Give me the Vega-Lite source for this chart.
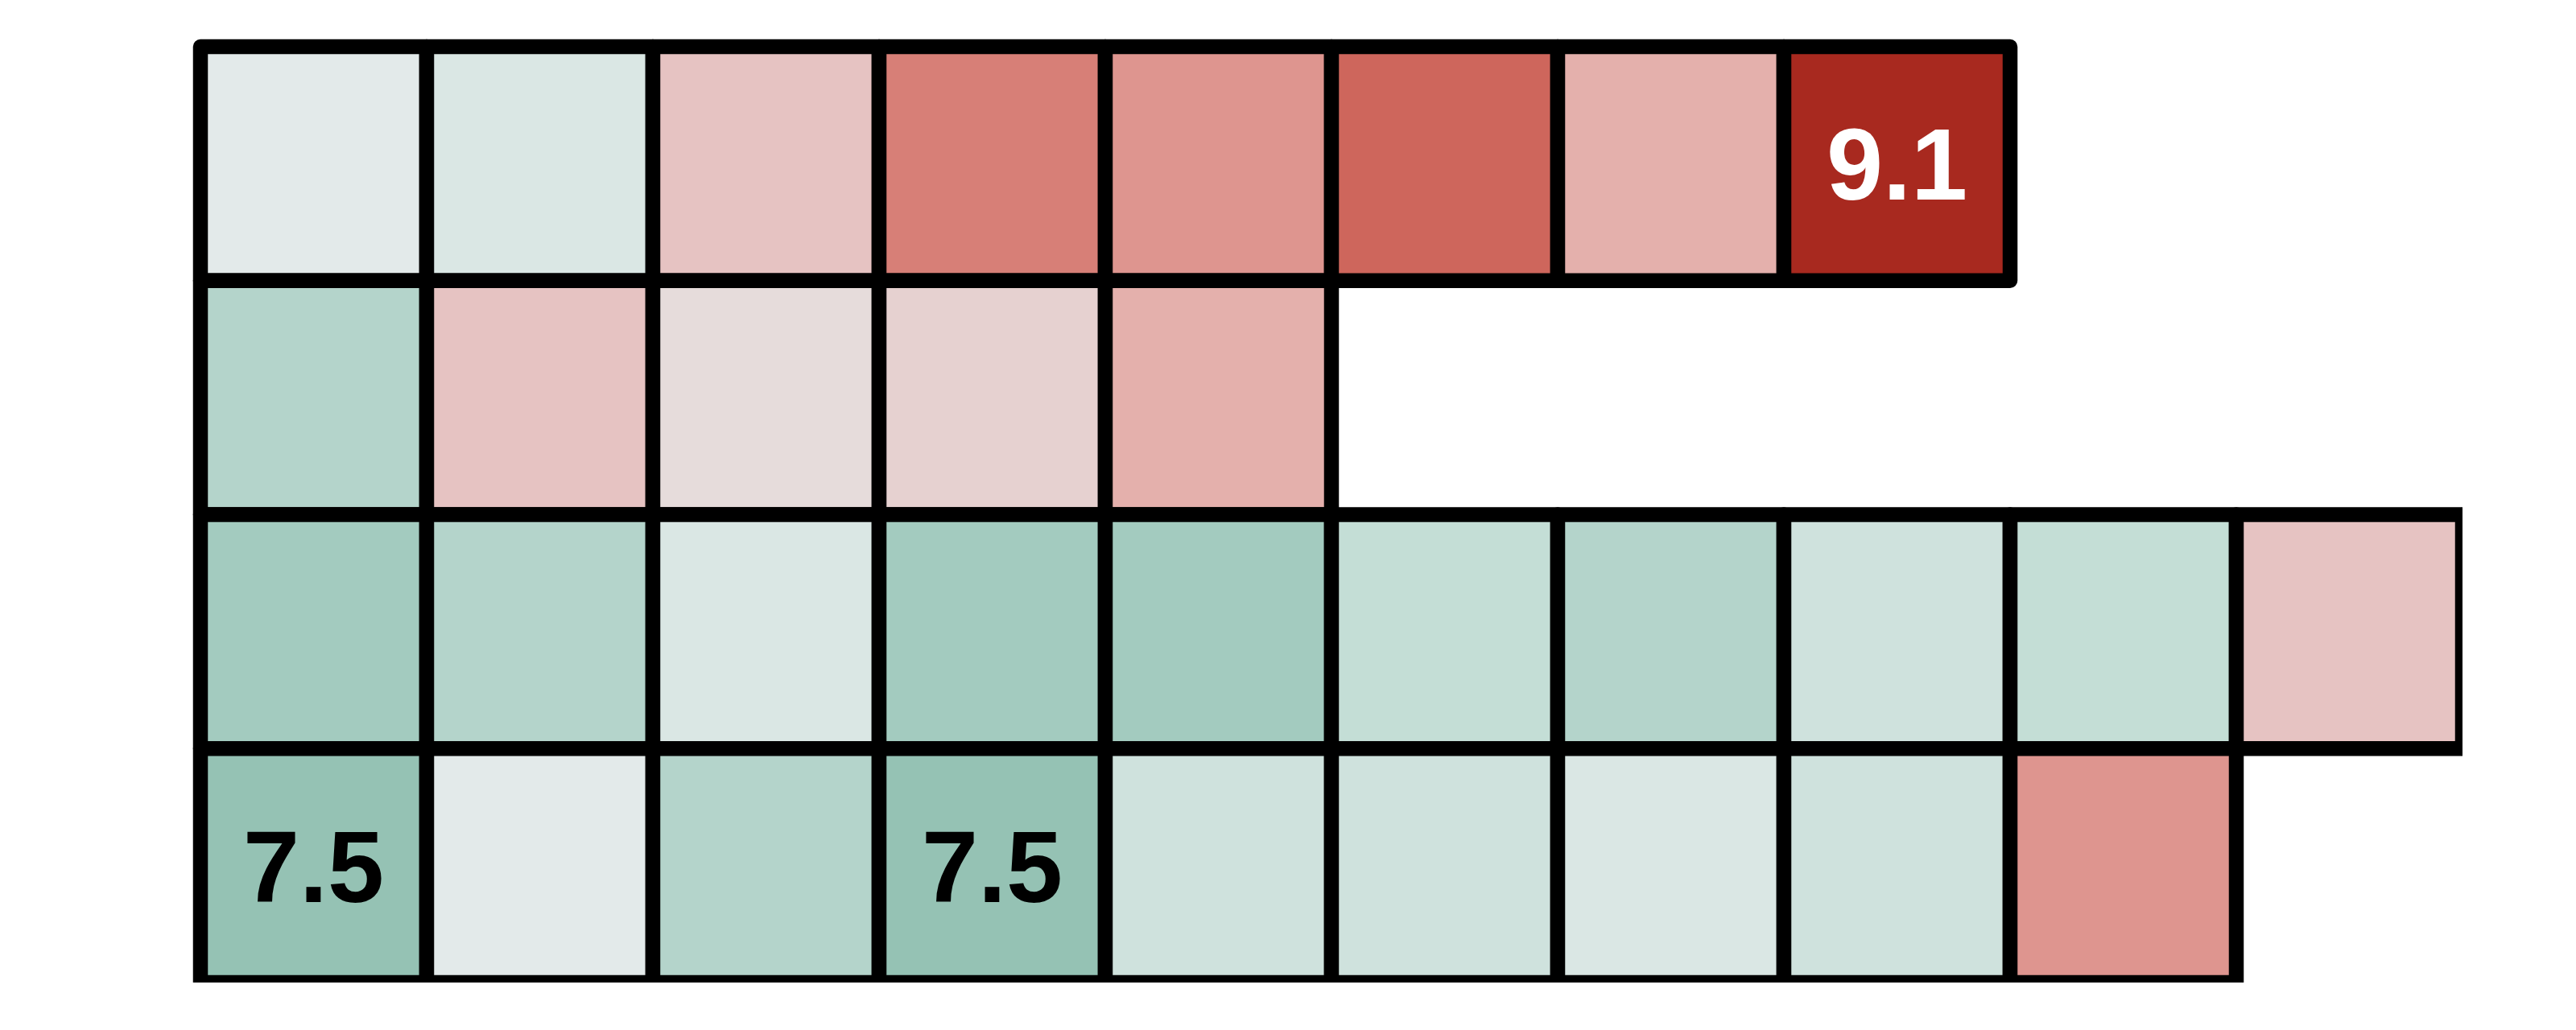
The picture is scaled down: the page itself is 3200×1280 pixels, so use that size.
{
  "$schema": "https://vega.github.io/schema/vega-lite/v6.json",
  "autosize": "none",
  "padding": {"left": 249, "top": 58, "right": 0, "bottom": 0},
  "width": 2810,
  "height": 1163,
  "background": "white",
  "config": {"view": {"stroke": null}},
  "data": {
    "values": [
      {"row": 1, "col": 1, "value": 8.1}, {"row": 1, "col": 2, "value": 8.0}, {"row": 1, "col": 3, "value": 8.4}, {"row": 1, "col": 4, "value": 8.7},
      {"row": 1, "col": 5, "value": 8.6}, {"row": 1, "col": 6, "value": 8.8}, {"row": 1, "col": 7, "value": 8.5}, {"row": 1, "col": 8, "value": 9.1},
      {"row": 2, "col": 1, "value": 7.7}, {"row": 2, "col": 2, "value": 8.4}, {"row": 2, "col": 3, "value": 8.2}, {"row": 2, "col": 4, "value": 8.3},
      {"row": 2, "col": 5, "value": 8.5},
      {"row": 3, "col": 1, "value": 7.6}, {"row": 3, "col": 2, "value": 7.7}, {"row": 3, "col": 3, "value": 8.0}, {"row": 3, "col": 4, "value": 7.6},
      {"row": 3, "col": 5, "value": 7.6}, {"row": 3, "col": 6, "value": 7.8}, {"row": 3, "col": 7, "value": 7.7}, {"row": 3, "col": 8, "value": 7.9},
      {"row": 3, "col": 9, "value": 7.8}, {"row": 3, "col": 10, "value": 8.4},
      {"row": 4, "col": 1, "value": 7.5}, {"row": 4, "col": 2, "value": 8.1}, {"row": 4, "col": 3, "value": 7.7}, {"row": 4, "col": 4, "value": 7.5},
      {"row": 4, "col": 5, "value": 7.9}, {"row": 4, "col": 6, "value": 7.9}, {"row": 4, "col": 7, "value": 8.0}, {"row": 4, "col": 8, "value": 7.9},
      {"row": 4, "col": 9, "value": 8.6}
    ]
  },
  "encoding": {
    "x": {"field": "col", "type": "ordinal", "scale": {"domain": [1,2,3,4,5,6,7,8,9,10], "paddingInner": 0, "paddingOuter": 0}, "axis": null},
    "y": {"field": "row", "type": "ordinal", "scale": {"domain": [1,2,3,4], "paddingInner": 0, "paddingOuter": 0}, "axis": null}
  },
  "layer": [
    {
      "mark": {"type": "rect", "stroke": "black", "strokeWidth": 18.5, "strokeJoin": "round"},
      "encoding": {
        "color": {
          "field": "value", "type": "quantitative", "legend": null,
          "scale": {
            "type": "linear",
            "interpolate": "rgb",
            "domain": [7.5, 7.6, 7.7, 7.8, 7.9, 8.0, 8.1, 8.2, 8.3, 8.4, 8.5, 8.6, 8.7, 8.8, 9.1],
            "range": ["#95c2b4", "#a3cbbf", "#b4d4cb", "#c4ded6", "#cfe2dd", "#dae7e4", "#e3eaea", "#e6dcdb", "#e6d1d0", "#e6c3c2", "#e4b0ac", "#de958f", "#d77f77", "#ce665c", "#a8291f"]
          }
        }
      }
    },
    {
      "transform": [
        {"joinaggregate": [{"op": "min", "field": "value", "as": "vmin"}, {"op": "max", "field": "value", "as": "vmax"}]},
        {"filter": "datum.value == datum.vmin || datum.value == datum.vmax"}
      ],
      "mark": {"type": "text", "font": "Liberation Sans", "fontWeight": "bold", "fontSize": 126, "align": "center", "baseline": "middle", "dy": 7},
      "encoding": {
        "text": {"field": "value", "type": "quantitative", "format": ".1f"},
        "color": {"condition": {"test": "datum.value > 8.5", "value": "white"}, "value": "black"}
      }
    }
  ]
}
